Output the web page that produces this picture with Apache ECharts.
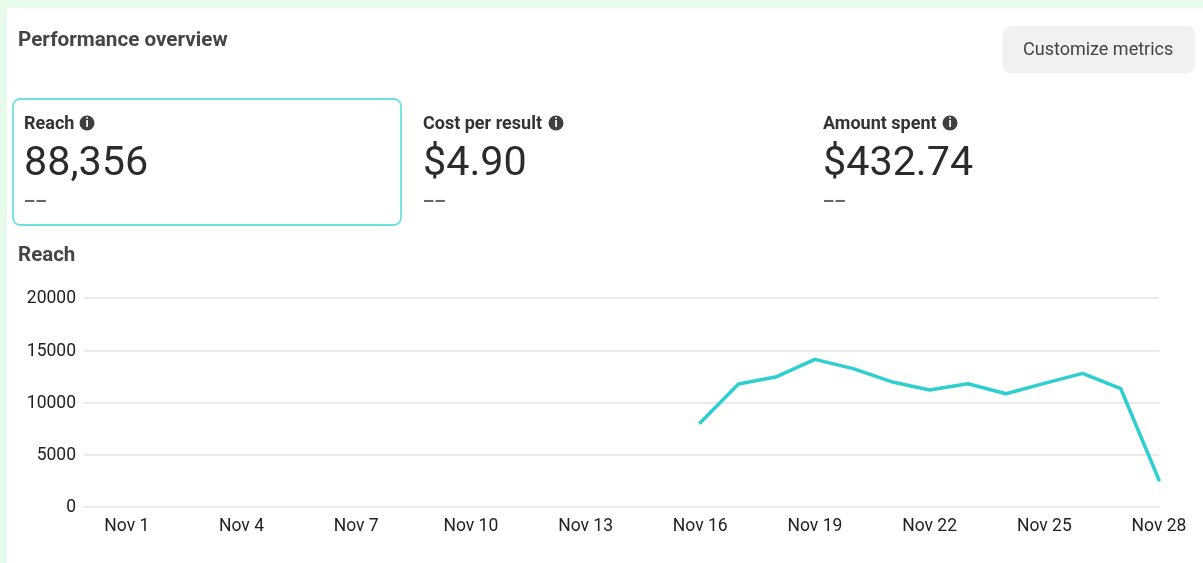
<!DOCTYPE html>
<html lang="en">
<head>
    <meta charset="UTF-8">
    <title>Performance overview</title>
    <style>
        html, body { margin: 0; padding: 0; background: #fff; }
        #main { width: 1203px; height: 563px; }
    </style>
</head>
<body>
<div id="main"></div>

<script src="https://cdn.jsdelivr.net/npm/echarts@6/dist/echarts.min.js"></script>
<script>
    // one entry per day, Nov 1 to Nov 28. null = no delivery yet
    const days = ["Nov 1","Nov 2","Nov 3","Nov 4","Nov 5","Nov 6","Nov 7","Nov 8","Nov 9","Nov 10",
        "Nov 11","Nov 12","Nov 13","Nov 14","Nov 15","Nov 16","Nov 17","Nov 18","Nov 19","Nov 20",
        "Nov 21","Nov 22","Nov 23","Nov 24","Nov 25","Nov 26","Nov 27","Nov 28"];
    const reach = [null,null,null,null,null,null,null,null,null,null,null,null,null,null,null,
        8070,11770,12470,14130,13240,11990,11200,11800,10840,11830,12790,11320,2580];
    const xTickDays = [0, 3, 6, 9, 12, 15, 18, 21, 24, 27];

    const metrics = [
        { name: "Reach", value: "88,356", x: 24, iconX: 87 },
        { name: "Cost per result", value: "$4.90", x: 423, iconX: 556 },
        { name: "Amount spent", value: "$432.74", x: 823, iconX: 950 }
    ];

    const font = "Roboto, sans-serif";

    function txt(x, y, text, size, weight, color) {
        return {
            type: "text", x: x, y: y, z: 5,
            style: { text: text, font: weight + " " + size + "px " + font, fill: color, textVerticalAlign: "middle" }
        };
    }

    function infoIcon(cx, cy) {
        return [
            { type: "circle", shape: { cx: cx, cy: cy, r: 7.5 }, style: { fill: "#3f3f3f" }, z: 5 },
            { type: "text", x: cx, y: cy + 0.5, z: 6,
              style: { text: "i", font: "700 12px " + font, fill: "#fff", textAlign: "center", textVerticalAlign: "middle" } }
        ];
    }

    let elements = [
        // mint page background showing at the top and the left
        { type: "rect", shape: { x: 0, y: 0, width: 1203, height: 8 }, style: { fill: "#e6fbe9" }, z: 0 },
        { type: "rect", shape: { x: 0, y: 0, width: 7, height: 563 }, style: { fill: "#e6fbe9" }, z: 0 },

        txt(18, 40.5, "Performance overview", 20.7, 700, "#454545"),

        { type: "rect", shape: { x: 1003, y: 26, width: 192, height: 47, r: 8 }, style: { fill: "#f1f1f1" }, z: 1 },
        txt(1023, 50.5, "Customize metrics", 18, 400, "#444444"),

        // selected metric card
        { type: "rect", shape: { x: 13, y: 99, width: 388, height: 126, r: 7 },
          style: { fill: "#fff", stroke: "#6fe0e0", lineWidth: 1.8 }, z: 1 },

        txt(18, 256, "Reach", 20.5, 700, "#454545")
    ];

    metrics.forEach(function (m) {
        elements.push(txt(m.x, 124.5, m.name, 18, 700, "#333333"));
        elements = elements.concat(infoIcon(m.iconX, 123));
        elements.push(txt(m.x, 165, m.value, 41.3, 400, "#2b2b2b"));
        elements.push(txt(m.x, 204, "--", 40, 300, "#666666"));
    });

    const chart = echarts.init(document.getElementById("main"), null, { renderer: "canvas" });
    chart.setOption({
        animation: false,
        backgroundColor: "#fff",
        graphic: elements,
        grid: { left: 84, right: 44, top: 298, bottom: 56, containLabel: false },
        xAxis: {
            type: "value",
            // a bit of room before Nov 1, the gridlines start left of it
            min: -1.12,
            max: 27,
            axisLine: { show: false },
            axisTick: { show: false },
            splitLine: { show: false },
            axisLabel: {
                customValues: xTickDays,
                formatter: function (v) { return days[v]; },
                color: "#222222",
                fontFamily: font,
                fontSize: 17.5,
                margin: 11,
                hideOverlap: false
            }
        },
        yAxis: {
            type: "value",
            min: 0,
            max: 20000,
            interval: 5000,
            axisLine: { show: false },
            axisTick: { show: false },
            splitLine: { lineStyle: { color: "#e3e3e3", width: 1.5 } },
            axisLabel: {
                formatter: function (v) { return String(v); },
                color: "#222222",
                fontFamily: font,
                fontSize: 17.5,
                margin: 8,
                // labels sit slightly under their gridline
                verticalAlign: "top",
                padding: [-8, 0, 0, 0]
            }
        },
        series: [{
            type: "line",
            data: reach.map(function (v, i) { return [i, v]; }),
            connectNulls: false,
            showSymbol: false,
            lineStyle: { color: "#2ecfcf", width: 3.5, cap: "round", join: "round" }
        }]
    });
</script>
</body>
</html>
